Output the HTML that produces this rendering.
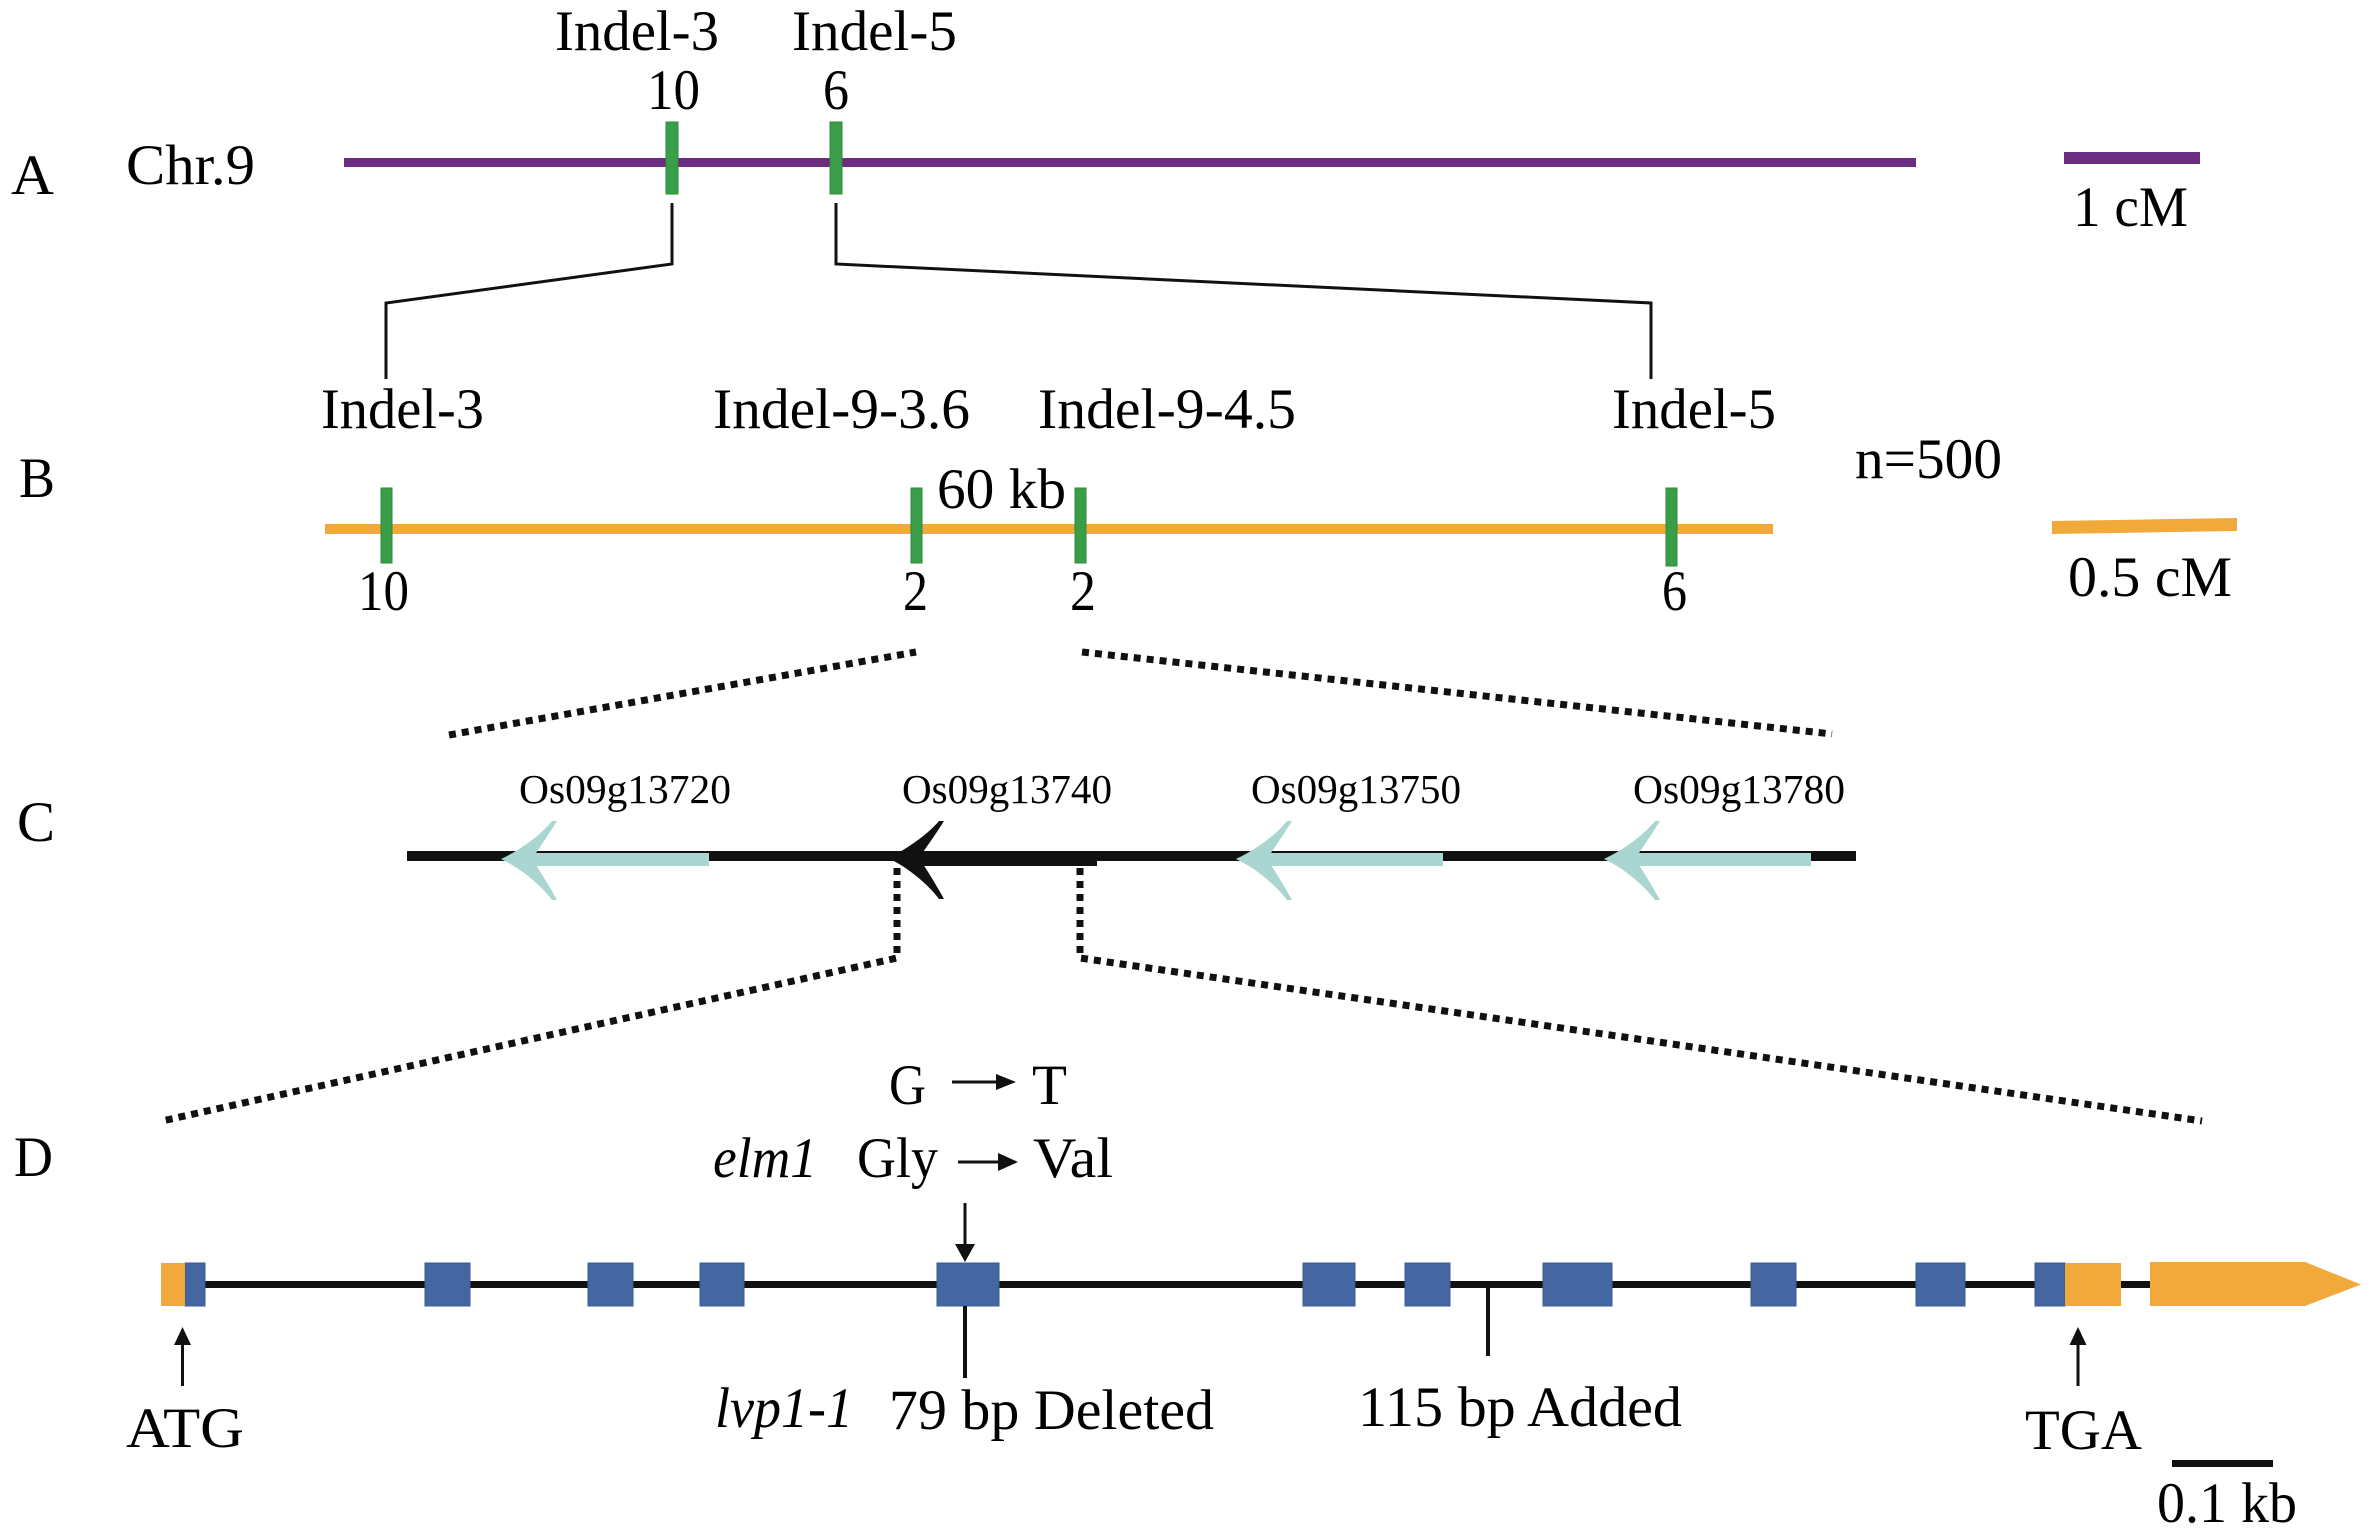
<!DOCTYPE html>
<html>
<head>
<meta charset="utf-8">
<style>
  html, body { margin: 0; padding: 0; background: #ffffff; }
  svg { display: block; }
  svg text { font-family: "Liberation Serif", "DejaVu Serif", "Times New Roman", serif; fill: #000; }
  .big { font-size: 57px; }
  .gene { font-size: 41.5px; }
  .it { font-style: italic; }
</style>
</head>
<body>
<svg width="2374" height="1536" viewBox="0 0 2374 1536" xmlns="http://www.w3.org/2000/svg" font-family="Liberation Serif, DejaVu Serif, serif">
  <rect x="0" y="0" width="2374" height="1536" fill="#ffffff"/>

  <!-- ===== Panel A ===== -->
  <text class="big" font-family="Liberation Serif, serif" x="555" y="50" textLength="164" lengthAdjust="spacingAndGlyphs">Indel-3</text>
  <text class="big" font-family="Liberation Serif, serif" x="792" y="50" textLength="165" lengthAdjust="spacingAndGlyphs">Indel-5</text>
  <text class="big" font-family="Liberation Serif, serif" x="647" y="109" textLength="53" lengthAdjust="spacingAndGlyphs">10</text>
  <text class="big" font-family="Liberation Serif, serif" x="823" y="109" textLength="26" lengthAdjust="spacingAndGlyphs">6</text>
  <text class="big" font-family="Liberation Serif, serif" x="11" y="194" textLength="43" lengthAdjust="spacingAndGlyphs">A</text>
  <text class="big" font-family="Liberation Serif, serif" x="126" y="184" textLength="129" lengthAdjust="spacingAndGlyphs">Chr.9</text>

  <rect x="344" y="158" width="1572" height="9" fill="#6b2d80"/>
  <rect x="666" y="122" width="12" height="72" fill="#3a9d48" stroke="#2f8a3c" stroke-width="1"/>
  <rect x="830" y="122" width="12" height="72" fill="#3a9d48" stroke="#2f8a3c" stroke-width="1"/>

  <rect x="2064" y="152" width="136" height="12" fill="#6b2d80"/>
  <text class="big" font-family="Liberation Serif, serif" x="2073" y="226" textLength="115" lengthAdjust="spacingAndGlyphs">1 cM</text>

  <!-- connectors A -> B -->
  <polyline points="672,203 672,264 386,303 386,379" fill="none" stroke="#111" stroke-width="3"/>
  <polyline points="836,203 836,264 1651,303 1651,379" fill="none" stroke="#111" stroke-width="3"/>

  <!-- ===== Panel B ===== -->
  <text class="big" font-family="Liberation Serif, serif" x="321" y="428" textLength="163" lengthAdjust="spacingAndGlyphs">Indel-3</text>
  <text class="big" font-family="Liberation Serif, serif" x="713" y="428" textLength="257" lengthAdjust="spacingAndGlyphs">Indel-9-3.6</text>
  <text class="big" font-family="Liberation Serif, serif" x="1038" y="428" textLength="258" lengthAdjust="spacingAndGlyphs">Indel-9-4.5</text>
  <text class="big" font-family="Liberation Serif, serif" x="1612" y="428" textLength="164" lengthAdjust="spacingAndGlyphs">Indel-5</text>
  <text class="big" font-family="Liberation Serif, serif" x="1855" y="478" textLength="147" lengthAdjust="spacingAndGlyphs">n=500</text>
  <text class="big" font-family="Liberation Serif, serif" x="19" y="497" textLength="36" lengthAdjust="spacingAndGlyphs">B</text>
  <text class="big" font-family="Liberation Serif, serif" x="937" y="508" textLength="129" lengthAdjust="spacingAndGlyphs">60 kb</text>

  <rect x="325" y="524" width="1448" height="10" fill="#f0a93a"/>
  <rect x="381" y="488" width="11" height="75" fill="#3a9d48" stroke="#2f8a3c" stroke-width="1"/>
  <rect x="911" y="488" width="11" height="75" fill="#3a9d48" stroke="#2f8a3c" stroke-width="1"/>
  <rect x="1075" y="488" width="11" height="75" fill="#3a9d48" stroke="#2f8a3c" stroke-width="1"/>
  <rect x="1666" y="488" width="11" height="78" fill="#3a9d48" stroke="#2f8a3c" stroke-width="1"/>

  <text class="big" font-family="Liberation Serif, serif" x="358" y="610" textLength="51" lengthAdjust="spacingAndGlyphs">10</text>
  <text class="big" font-family="Liberation Serif, serif" x="903" y="610" textLength="25" lengthAdjust="spacingAndGlyphs">2</text>
  <text class="big" font-family="Liberation Serif, serif" x="1070" y="610" textLength="26" lengthAdjust="spacingAndGlyphs">2</text>
  <text class="big" font-family="Liberation Serif, serif" x="1662" y="610" textLength="25" lengthAdjust="spacingAndGlyphs">6</text>

  <polygon points="2052,521 2237,518 2237,531 2052,534" fill="#f0a93a"/>
  <text class="big" font-family="Liberation Serif, serif" x="2068" y="596" textLength="164" lengthAdjust="spacingAndGlyphs">0.5 cM</text>

  <!-- dotted B -> C -->
  <line x1="449" y1="735" x2="916" y2="652" stroke="#111" stroke-width="7" stroke-dasharray="7 6"/>
  <line x1="1082" y1="652" x2="1832" y2="734" stroke="#111" stroke-width="7" stroke-dasharray="7 6"/>

  <!-- ===== Panel C ===== -->
  <text class="big" font-family="Liberation Serif, serif" x="17" y="841" textLength="38" lengthAdjust="spacingAndGlyphs">C</text>
  <text class="gene" font-family="Liberation Serif, serif" x="519" y="803" textLength="212" lengthAdjust="spacingAndGlyphs">Os09g13720</text>
  <text class="gene" font-family="Liberation Serif, serif" x="902" y="803" textLength="210" lengthAdjust="spacingAndGlyphs">Os09g13740</text>
  <text class="gene" font-family="Liberation Serif, serif" x="1251" y="803" textLength="210" lengthAdjust="spacingAndGlyphs">Os09g13750</text>
  <text class="gene" font-family="Liberation Serif, serif" x="1633" y="803" textLength="212" lengthAdjust="spacingAndGlyphs">Os09g13780</text>

  <rect x="407" y="851" width="1449" height="10" fill="#111"/>

  <!-- teal arrow 1 -->
  <rect x="525" y="853" width="184" height="13" fill="#a9d6d0"/>
  <path d="M501 859 C520 850 540 836 552 821 L557 821 C547 837 538 850 532 859 C538 868 547 882 557 900 L552 900 C540 884 520 868 501 859 Z" fill="#a9d6d0"/>
  <!-- black arrow 2 -->
  <rect x="912" y="852" width="185" height="14" fill="#111"/>
  <path d="M888 858 C907 849 927 835 939 821 L944 821 C934 837 925 849 919 858 C925 867 934 881 944 899 L939 899 C927 883 907 867 888 858 Z" fill="#111"/>
  <!-- teal arrow 3 -->
  <rect x="1260" y="853" width="183" height="13" fill="#a9d6d0"/>
  <path d="M1236 859 C1255 850 1275 836 1287 821 L1292 821 C1282 837 1273 850 1267 859 C1273 868 1282 882 1292 900 L1287 900 C1275 884 1255 868 1236 859 Z" fill="#a9d6d0"/>
  <!-- teal arrow 4 -->
  <rect x="1628" y="853" width="183" height="13" fill="#a9d6d0"/>
  <path d="M1604 859 C1623 850 1643 836 1655 821 L1660 821 C1650 837 1641 850 1635 859 C1641 868 1650 882 1660 900 L1655 900 C1643 884 1623 868 1604 859 Z" fill="#a9d6d0"/>

  <!-- dotted C -> D -->
  <polyline points="897,868 897,958 162,1121" fill="none" stroke="#111" stroke-width="7" stroke-dasharray="7 6"/>
  <polyline points="1080,868 1080,958 2202,1121" fill="none" stroke="#111" stroke-width="7" stroke-dasharray="7 6"/>

  <!-- ===== Panel D ===== -->
  <text class="big" font-family="Liberation Serif, serif" x="14" y="1176" textLength="39" lengthAdjust="spacingAndGlyphs">D</text>

  <text class="big" font-family="Liberation Serif, serif" x="889" y="1104" textLength="37" lengthAdjust="spacingAndGlyphs">G</text>
  <line x1="952" y1="1082" x2="998" y2="1082" stroke="#111" stroke-width="3"/>
  <polygon points="996,1074 1016,1082 996,1090" fill="#111"/>
  <text class="big" font-family="Liberation Serif, serif" x="1032" y="1104" textLength="35" lengthAdjust="spacingAndGlyphs">T</text>

  <text class="big it" font-family="Liberation Serif, serif" font-style="italic" x="713" y="1177" textLength="104" lengthAdjust="spacingAndGlyphs">elm1</text>
  <text class="big" font-family="Liberation Serif, serif" x="857" y="1177" textLength="81" lengthAdjust="spacingAndGlyphs">Gly</text>
  <line x1="958" y1="1162" x2="1000" y2="1162" stroke="#111" stroke-width="3"/>
  <polygon points="998,1153 1018,1162 998,1171" fill="#111"/>
  <text class="big" font-family="Liberation Serif, serif" x="1033" y="1177" textLength="80" lengthAdjust="spacingAndGlyphs">Val</text>

  <!-- down arrow to mutation -->
  <line x1="965" y1="1203" x2="965" y2="1248" stroke="#111" stroke-width="3"/>
  <polygon points="955,1244 975,1244 965,1262" fill="#111"/>

  <!-- gene line -->
  <rect x="185" y="1281" width="1966" height="7" fill="#111"/>

  <!-- exons -->
  <g fill="#4466a1" stroke="#3b5b95" stroke-width="1">
    <rect x="185" y="1263" width="20" height="43"/>
    <rect x="425" y="1263" width="45" height="43"/>
    <rect x="588" y="1263" width="45" height="43"/>
    <rect x="700" y="1263" width="44" height="43"/>
    <rect x="937" y="1263" width="62" height="43"/>
    <rect x="1303" y="1263" width="52" height="43"/>
    <rect x="1405" y="1263" width="45" height="43"/>
    <rect x="1543" y="1263" width="69" height="43"/>
    <rect x="1751" y="1263" width="45" height="43"/>
    <rect x="1916" y="1263" width="49" height="43"/>
    <rect x="2035" y="1263" width="30" height="43"/>
  </g>
  <rect x="161" y="1263" width="24" height="43" fill="#f0a93a"/>
  <rect x="2065" y="1263" width="56" height="43" fill="#f0a93a"/>
  <polygon points="2150,1262 2305,1262 2361,1284.5 2305,1306 2150,1306" fill="#f0a93a"/>

  <!-- mutation ticks -->
  <line x1="965" y1="1306" x2="965" y2="1378" stroke="#111" stroke-width="4"/>
  <line x1="1488" y1="1286" x2="1488" y2="1356" stroke="#111" stroke-width="4"/>

  <!-- ATG / TGA arrows -->
  <line x1="182.5" y1="1386" x2="182.5" y2="1340" stroke="#111" stroke-width="3"/>
  <polygon points="174,1345 191,1345 182.5,1327" fill="#111"/>
  <line x1="2078" y1="1386" x2="2078" y2="1340" stroke="#111" stroke-width="3"/>
  <polygon points="2069.5,1345 2086.5,1345 2078,1327" fill="#111"/>

  <text class="big" font-family="Liberation Serif, serif" x="126" y="1447" textLength="118" lengthAdjust="spacingAndGlyphs">ATG</text>
  <text class="big it" font-family="Liberation Serif, serif" font-style="italic" x="715" y="1427" textLength="138" lengthAdjust="spacingAndGlyphs">lvp1-1</text>
  <text class="big" font-family="Liberation Serif, serif" x="889" y="1429" textLength="325" lengthAdjust="spacingAndGlyphs">79 bp Deleted</text>
  <text class="big" font-family="Liberation Serif, serif" x="1358" y="1426" textLength="324" lengthAdjust="spacingAndGlyphs">115 bp Added</text>
  <text class="big" font-family="Liberation Serif, serif" x="2025" y="1449" textLength="117" lengthAdjust="spacingAndGlyphs">TGA</text>

  <rect x="2172" y="1460" width="101" height="7" fill="#111"/>
  <text class="big" font-family="Liberation Serif, serif" x="2157" y="1522" textLength="140" lengthAdjust="spacingAndGlyphs">0.1 kb</text>
</svg>
</body>
</html>
